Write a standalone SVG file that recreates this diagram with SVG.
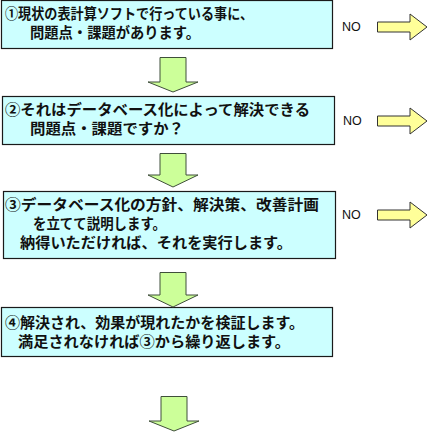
<svg xmlns="http://www.w3.org/2000/svg" width="437" height="434" viewBox="0 0 437 434">
<style>
.box{fill:#ccffff;stroke:#1a1a1a;stroke-width:1.2}
.t{font-family:"Noto Sans CJK JP","Noto Sans CJK SC",sans-serif;font-weight:bold;font-size:14.5px;fill:#111}
.no{font-family:"Liberation Sans",Arial,sans-serif;font-size:12.5px;fill:#111}
.down{fill:#ccff99;stroke:#3f4f3a;stroke-width:1}
.right{fill:#ffff99;stroke:#333;stroke-width:1}
</style>
<rect width="437" height="434" fill="#fff"/>
<g id="node1">
<rect class="box" x="1.5" y="0.5" width="331" height="48"/>
<text class="t" x="5" y="19" textLength="248" lengthAdjust="spacingAndGlyphs">①現状の表計算ソフトで行っている事に、</text>
<text class="t" x="30" y="38" textLength="170" lengthAdjust="spacingAndGlyphs">問題点・課題があります。</text>
</g>
<g id="node2">
<rect class="box" x="2.5" y="96.5" width="332" height="48"/>
<text class="t" x="5" y="115" textLength="305" lengthAdjust="spacingAndGlyphs">②それはデータベース化によって解決できる</text>
<text class="t" x="30" y="134" textLength="154" lengthAdjust="spacingAndGlyphs">問題点・課題ですか？</text>
</g>
<g id="node3">
<rect class="box" x="3.5" y="191.5" width="332" height="67"/>
<text class="t" x="5" y="210" textLength="314" lengthAdjust="spacingAndGlyphs">③データベース化の方針、解決策、改善計画</text>
<text class="t" x="33" y="229" textLength="133" lengthAdjust="spacingAndGlyphs">を立てて説明します。</text>
<text class="t" x="20" y="248" textLength="272" lengthAdjust="spacingAndGlyphs">納得いただければ、それを実行します。</text>
</g>
<g id="node4">
<rect class="box" x="1.5" y="307.5" width="331" height="49"/>
<text class="t" x="5" y="328" textLength="299" lengthAdjust="spacingAndGlyphs">④解決され、効果が現れたかを検証します。</text>
<text class="t" x="18" y="347" textLength="272" lengthAdjust="spacingAndGlyphs">満足されなければ③から繰り返します。</text>
</g>
<g id="connectors">
<path class="down" d="M160 57.5H186V82H198L173 92L148 82H160Z"/>
<path class="down" d="M160 153.5H186V175H198L173 187L148 175H160Z"/>
<path class="down" d="M160 272.5H186V295H198L173 307L148 295H160Z"/>
<path class="down" d="M161 396.5H187V421H199L174 431L149 421H161Z"/>
<path class="right" d="M377.5 22H410V14L427 27L410 40V32H377.5Z"/>
<path class="right" d="M377.5 116H410V108L427 121L410 134V126H377.5Z"/>
<path class="right" d="M377.5 210H410V202L427 215L410 228V220H377.5Z"/>
<text class="no" x="342" y="31">NO</text>
<text class="no" x="343" y="125">NO</text>
<text class="no" x="342" y="219">NO</text>
</g>
</svg>
